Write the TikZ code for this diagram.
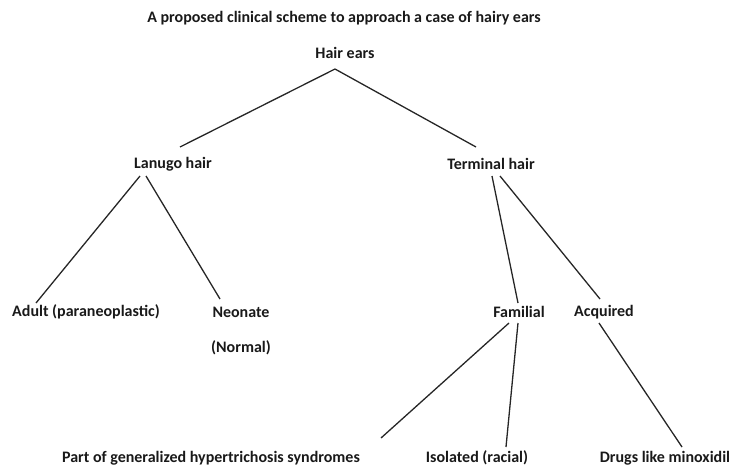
\documentclass[tikz,border=0pt]{standalone}
\usepackage{fontspec}
\setmainfont{Carlito}
\usetikzlibrary{calc}
\begin{document}
\begin{tikzpicture}[x=1pt,y=-1pt,
  lbl/.style={font=\bfseries\fontsize{16}{19}\selectfont, inner sep=0pt, text=black!90},
  conn/.style={line width=1.3pt, draw=black!85}]
\useasboundingbox (0,0) rectangle (732,471);
\node[lbl] (title) at (344,18) {A proposed clinical scheme to approach a case of hairy ears};
\node[lbl] (hair) at (345,53) {Hair ears};
\node[lbl] (lan) at (173,164) {Lanugo hair};
\node[lbl] (term) at (491,164) {Terminal hair};
\node[lbl] (adult) at (86,312) {Adult (paraneoplastic)};
\node[lbl] (neo) at (241,312) {Neonate};
\node[lbl] (normal) at (241,348) {(Normal)};
\node[lbl] (fam) at (519,312) {Familial};
\node[lbl] (acq) at (604,312) {Acquired};
\node[lbl] (part) at (211,458) {Part of generalized hypertrichosis syndromes};
\node[lbl] (iso) at (477,458) {Isolated (racial)};
\node[lbl] (drugs) at (665,458) {Drugs like minoxidil};
\draw[conn] ($(hair)+(-10,16)$) -- ($(lan)+(7,-17)$);
\draw[conn] ($(hair)+(-10,16)$) -- ($(term)+(-15,-17)$);
\draw[conn] ($(lan)+(-33,12)$) -- ($(adult)+(-50,-9)$);
\draw[conn] ($(lan)+(-27,12)$) -- ($(neo)+(-21,-13)$);
\draw[conn] ($(term)+(1,12)$) -- ($(fam)+(-1,-9)$);
\draw[conn] ($(term)+(9,12)$) -- ($(acq)+(-4,-13)$);
\draw[conn] ($(fam)+(-10,11)$) -- ($(part)+(170,-20)$);
\draw[conn] ($(fam)+(-1,11)$) -- ($(iso)+(29,-11)$);
\draw[conn] ($(acq)+(-5,11)$) -- ($(drugs)+(17,-11)$);
\end{tikzpicture}
\end{document}
